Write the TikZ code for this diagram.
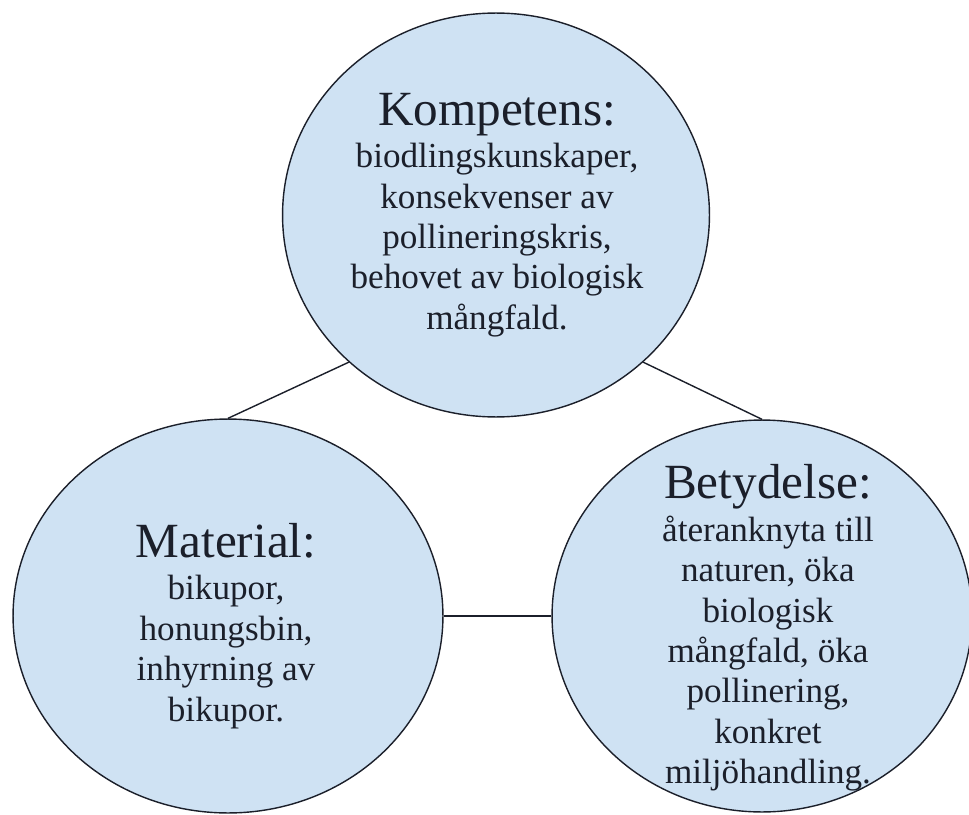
\documentclass[tikz,border=0pt]{standalone}
\usepackage{fontspec}
\setmainfont{Liberation Serif}
\usetikzlibrary{shapes.geometric}

\definecolor{bubfill}{HTML}{CFE2F3}
\definecolor{inkcol}{HTML}{1B1F2A}

\tikzset{
  bubble/.style={ellipse, draw=inkcol, fill=bubfill, line width=0.8pt, inner sep=0},
  bubtext/.style={align=center, text=inkcol, inner sep=0,
                  font=\fontsize{20}{23}\selectfont},
  link/.style={draw=inkcol, line width=0.8pt},
}
\newcommand{\headline}[1]{{\fontsize{28}{30}\selectfont #1}\\[1.2pt]}

\begin{document}
\begin{tikzpicture}[x=0.02cm, y=-0.02cm]
    % canvas 969 x 814 px, one unit = one pixel
    \clip (0,0) rectangle (969,814);
    \fill[white] (0,0) rectangle (969,814);

    % === Bubbles ===
    \node[bubble, minimum width=8.54cm, minimum height=8.08cm] (komp) at (496,215) {};
    \node[bubble, minimum width=8.60cm, minimum height=7.88cm] (mat)  at (228,616) {};
    \node[bubble, minimum width=8.40cm, minimum height=7.84cm] (bet)  at (762,616) {};

    % === Links ===
    \draw[link] (mat.north) -- (komp.-135);
    \draw[link] (bet.north) -- (komp.-45);
    \draw[link] (mat.east) -- (bet.west);

    % === Texts ===
    \node[bubtext] (kompt) at (497,215) {\headline{Kompetens:}
      biodlingskunskaper,\\ konsekvenser av\\ pollineringskris,\\
      behovet av biologisk\\ mångfald.};
    \node[bubtext] (matt) at (226,626) {\headline{Material:}
      bikupor,\\ honungsbin,\\ inhyrning av\\ bikupor.};
    \node[bubtext] (bett) at (768,628) {\headline{Betydelse:}
      återanknyta till\\ naturen, öka\\ biologisk\\ mångfald, öka\\
      pollinering,\\ konkret\\ miljöhandling.};
\end{tikzpicture}
\end{document}
